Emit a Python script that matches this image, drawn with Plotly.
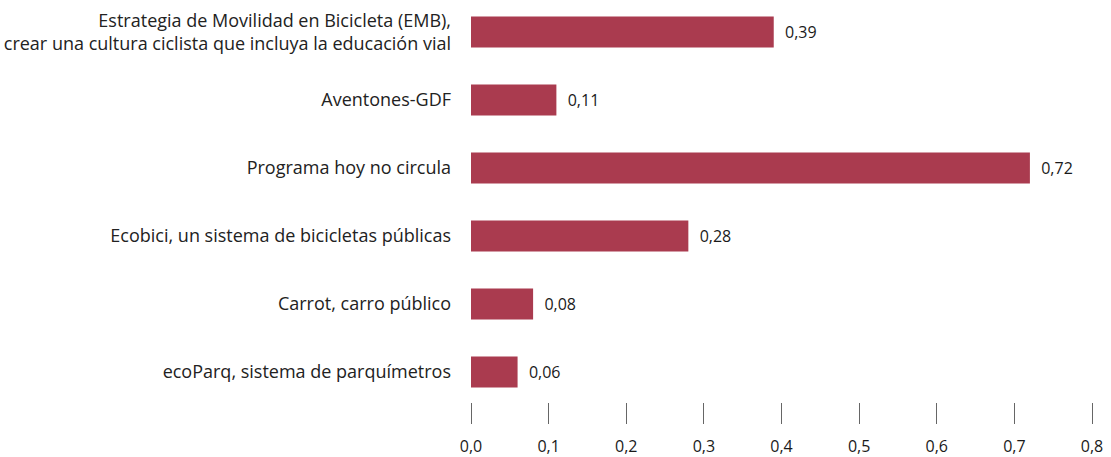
import plotly.graph_objects as go

programas = [
    'ecoParq, sistema de parquímetros',
    'Carrot, carro público',
    'Ecobici, un sistema de bicicletas públicas',
    'Programa hoy no circula',
    'Aventones-GDF',
    'Estrategia de Movilidad en Bicicleta (EMB),<br>crear una cultura ciclista que incluya la educación vial',
]
valores = [0.06, 0.08, 0.28, 0.72, 0.11, 0.39]
ticks_x = [0.0, 0.1, 0.2, 0.3, 0.4, 0.5, 0.6, 0.7, 0.8]

color_barra = '#AA3B4F'

trace = go.Bar(
    x=valores,
    y=programas,
    orientation='h',
    marker=dict(color=color_barra, line=dict(width=0)),
    texttemplate='\u00a0\u00a0%{x:.2f}',
    textposition='outside',
    textfont=dict(size=16, color='#1a1a1a'),
    cliponaxis=False,
    hoverinfo='skip',
)

layout = go.Layout(
    width=1111,
    height=457,
    margin=dict(l=471, r=19, t=0, b=55),
    paper_bgcolor='white',
    plot_bgcolor='white',
    separators=',.',
    font=dict(family='Open Sans, sans-serif', size=18, color='#222222'),
    showlegend=False,
    bargap=0.544,
    xaxis=dict(
        range=[0, 0.8],
        tickvals=ticks_x,
        tickformat='.1f',
        ticks='outside',
        ticklen=21,
        tickcolor='#666666',
        tickwidth=1,
        showgrid=False,
        zeroline=False,
        showline=False,
        automargin=False,
        ticklabelstandoff=9,
        tickfont=dict(size=16, color='#1a1a1a'),
    ),
    yaxis=dict(
        range=[-0.441, 5.47],
        showgrid=False,
        zeroline=False,
        showline=False,
        automargin=False,
        ticks='',
        ticklabelstandoff=19,
        tickfont=dict(size=18, color='#222222'),
    ),
)

fig = go.Figure(data=[trace], layout=layout)
fig.write_html('out.html', config={'displayModeBar': False},
               post_script="document.body.style.margin='0';")
